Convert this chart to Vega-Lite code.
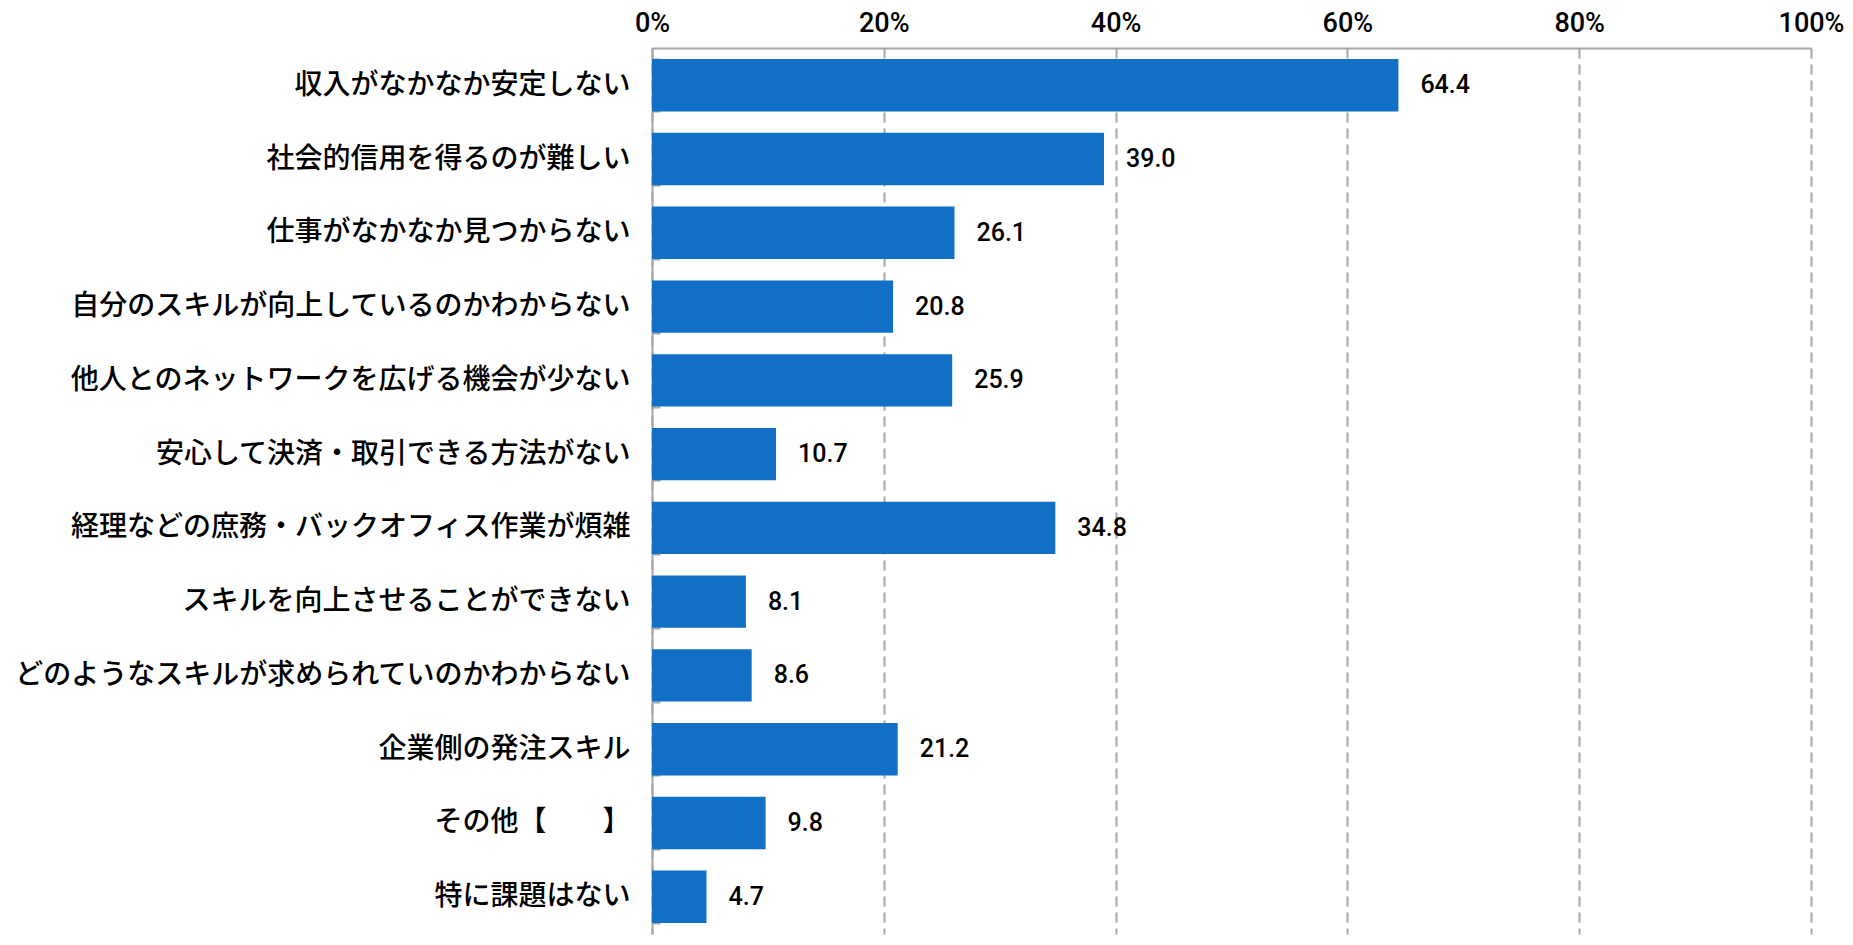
{
  "$schema": "https://vega.github.io/schema/vega-lite/v6.json",
  "width": 1159,
  "height": 886,
  "autosize": {"type": "none"},
  "padding": {"left": 652, "top": 48, "right": 42, "bottom": 11},
  "background": "white",
  "config": {"view": {"stroke": null}},
  "data": {"values": [
    {"item": "収入がなかなか安定しない", "value": 64.4},
    {"item": "社会的信用を得るのが難しい", "value": 39.0},
    {"item": "仕事がなかなか見つからない", "value": 26.1},
    {"item": "自分のスキルが向上しているのかわからない", "value": 20.8},
    {"item": "他人とのネットワークを広げる機会が少ない", "value": 25.9},
    {"item": "安心して決済・取引できる方法がない", "value": 10.7},
    {"item": "経理などの庶務・バックオフィス作業が煩雑", "value": 34.8},
    {"item": "スキルを向上させることができない", "value": 8.1},
    {"item": "どのようなスキルが求められていのかわからない", "value": 8.6},
    {"item": "企業側の発注スキル", "value": 21.2},
    {"item": "その他【　　】", "value": 9.8},
    {"item": "特に課題はない", "value": 4.7}
  ]},
  "encoding": {
    "y": {
      "field": "item", "type": "nominal", "sort": null, "title": null,
      "scale": {"paddingInner": 0.29, "paddingOuter": 0.15},
      "axis": {
        "labelFont": "Noto Sans CJK JP", "labelFontSize": 28, "labelFontWeight": 500, "labelColor": "#000000",
        "labelPadding": 30, "labelLimit": 700,
        "domainColor": "#A6A6A6", "domainWidth": 2,
        "ticks": true, "tickBand": "extent", "tickColor": "#A6A6A6", "tickWidth": 2, "tickSize": -8
      }
    }
  },
  "layer": [
    {
      "mark": {"type": "bar", "color": "#1170C6"},
      "encoding": {
        "x": {
          "field": "value", "type": "quantitative", "title": null,
          "scale": {"domain": [0, 100], "nice": false},
          "axis": {
            "orient": "top", "values": [0, 20, 40, 60, 80, 100],
            "labelExpr": "datum.value + '%'", "labelFlush": false,
            "labelFont": "Roboto", "labelFontSize": 27, "labelFontWeight": 500, "labelColor": "#000000",
            "labelPadding": 11, "ticks": false,
            "domainColor": "#A6A6A6", "domainWidth": 2,
            "grid": true, "gridColor": "#A6A6A6", "gridWidth": 2, "gridDash": [10, 6]
          }
        }
      }
    },
    {
      "mark": {"type": "text", "align": "left", "baseline": "middle", "dx": 22, "font": "Roboto", "fontSize": 25, "fontWeight": 500, "color": "#000000"},
      "encoding": {
        "x": {"field": "value", "type": "quantitative"},
        "text": {"field": "value", "type": "quantitative", "format": ".1f"}
      }
    }
  ]
}
